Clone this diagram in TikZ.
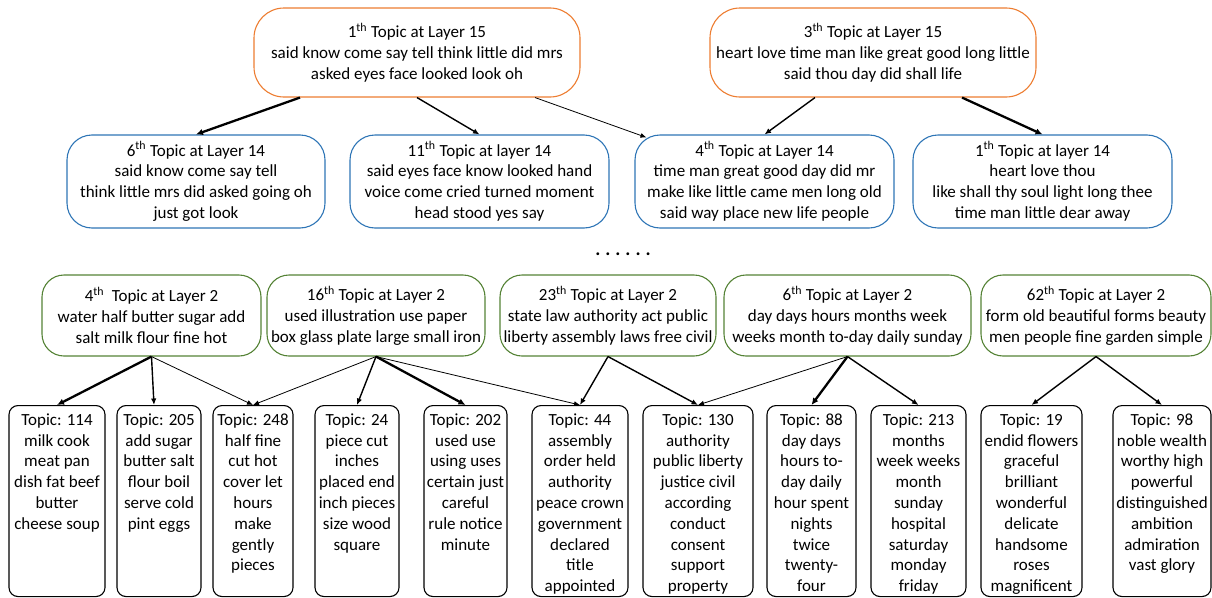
\documentclass[tikz,border=0pt]{standalone}
\usepackage{fontspec}
\setmainfont{Carlito}
\usetikzlibrary{arrows.meta}
\definecolor{orangeL}{HTML}{ED7D31}
\definecolor{blueL}{HTML}{2E75B6}
\definecolor{greenL}{HTML}{548235}
\newcommand\leafbody[1]{\vbox to 191pt{\vskip 8pt\halign{\hfil##\hfil\cr#1\crcr}\vfill}}
\newcommand\sth{\textsuperscript{th}}
\begin{document}
\begin{tikzpicture}[x=1pt,y=-1pt,
  font=\fontsize{17pt}{20.8pt}\selectfont,
  topbox/.style={draw=orangeL, line width=1.1pt, rounded corners=30pt, align=center,
    minimum width=326pt, minimum height=89pt, inner sep=0pt},
  midbox/.style={draw=blueL, line width=1.1pt, rounded corners=25pt, align=center,
    minimum width=259pt, minimum height=93pt, inner sep=0pt},
  lowbox/.style={draw=greenL, line width=1.1pt, rounded corners=22pt, align=center,
    minimum height=81pt, inner sep=0pt},
  leaf/.style={draw=black, line width=1.1pt, rounded corners=9pt, anchor=north,
    inner sep=0pt},
  ethin/.style={line width=0.8pt, -{Latex[length=6pt,width=5pt]}},
  emed/.style={line width=1.4pt, -{Latex[length=6.5pt,width=5.5pt]}},
  ethick/.style={line width=2.3pt, -{Latex[length=7pt,width=6.5pt]}}
]
\useasboundingbox (0,0) rectangle (1212,597);

% layer 15
\node[topbox] (o1) at (417,52.5) {1\sth{} Topic at Layer 15\\said know come say tell think little did mrs\\asked eyes face looked look oh};
\node[topbox] (o3) at (873,52.5) {3\sth{} Topic at Layer 15\\heart love time man like great good long little\\said thou day did shall life};

% layer 14
\node[midbox, minimum width=258pt] (b6) at (196,181.5) {6\sth{} Topic at Layer 14\\said know come say tell\\think little mrs did asked going oh\\just got look};
\node[midbox] (b11) at (479.5,181.5) {11\sth{} Topic at layer 14\\said eyes face know looked hand\\voice come cried turned moment\\head stood yes say};
\node[midbox] (b4) at (764.5,181.5) {4\sth{} Topic at Layer 14\\time man great good day did mr\\make like little came men long old\\said way place new life people};
\node[midbox] (b1) at (1042.5,181.5) {1\sth{} Topic at layer 14\\heart love thou\\like shall thy soul light long thee\\time man little dear away};

\node[font=\fontsize{19pt}{20.8pt}\selectfont\bfseries, inner sep=0pt] (dots) at (623,254) {.\kern5pt.\kern5pt.\kern5pt.\kern5pt.\kern5pt.};

% layer 2
\node[lowbox, minimum width=219pt] (g4) at (151.5,315.5) {4\sth\ \ Topic at Layer 2\\water half butter sugar add\\salt milk flour fine hot};
\node[lowbox, minimum width=218pt] (g16) at (376,315.5) {16\sth{} Topic at Layer 2\\used illustration use paper\\box glass plate large small iron};
\node[lowbox, minimum width=216pt] (g23) at (608,315.5) {23\sth{} Topic at Layer 2\\state law authority act public\\liberty assembly laws free civil};
\node[lowbox, minimum width=247pt] (g6) at (847.5,315.5) {6\sth{} Topic at Layer 2\\day days hours months week\\weeks month to-day daily sunday};
\node[lowbox, minimum width=230pt] (g62) at (1096,315.5) {62\sth{} Topic at Layer 2\\form old beautiful forms beauty\\men people fine garden simple};

% layer 1
\node[leaf, minimum width=96pt] (t114) at (57,405) {\leafbody{Topic: 114\cr milk cook\cr meat pan\cr dish fat beef\cr butter\cr cheese soup}};
\node[leaf, minimum width=84pt] (t205) at (159,405) {\leafbody{Topic: 205\cr add sugar\cr butter salt\cr flour boil\cr serve cold\cr pint eggs}};
\node[leaf, minimum width=80pt] (t248) at (253,405) {\leafbody{Topic: 248\cr half fine\cr cut hot\cr cover let\cr hours\cr make\cr gently\cr pieces}};
\node[leaf, minimum width=84pt] (t24) at (357,405) {\leafbody{Topic: 24\cr piece cut\cr inches\cr placed end\cr inch pieces\cr size wood\cr square}};
\node[leaf, minimum width=83pt] (t202) at (465.5,405) {\leafbody{Topic: 202\cr used use\cr using uses\cr certain just\cr careful\cr rule notice\cr minute}};
\node[leaf, minimum width=96pt] (t44) at (580,405) {\leafbody{Topic: 44\cr assembly\cr order held\cr authority\cr peace crown\cr government\cr declared\cr title\cr appointed}};
\node[leaf, minimum width=110pt] (t130) at (698,405) {\leafbody{Topic: 130\cr authority\cr public liberty\cr justice civil\cr according\cr conduct\cr consent\cr support\cr property}};
\node[leaf, minimum width=89pt] (t88) at (811.5,405) {\leafbody{Topic: 88\cr day days\cr hours to-\cr day daily\cr hour spent\cr nights\cr twice\cr twenty-\cr four}};
\node[leaf, minimum width=95pt] (t213) at (918.5,405) {\leafbody{Topic: 213\cr months\cr week weeks\cr month\cr sunday\cr hospital\cr saturday\cr monday\cr friday}};
\node[leaf, minimum width=101pt] (t19) at (1031.5,405) {\leafbody{Topic: 19\cr endid flowers\cr graceful\cr brilliant\cr wonderful\cr delicate\cr handsome\cr roses\cr magnificent}};
\node[leaf, minimum width=98pt] (t98) at (1162,405) {\leafbody{Topic: 98\cr noble wealth\cr worthy high\cr powerful\cr distinguished\cr ambition\cr admiration\cr vast glory}};

% connectors layer 15 -> 14
\draw[ethick] ([xshift=-117pt]o1.south) -- (b6.north);
\draw[emed] (o1.south) -- (b11.north);
\draw[ethin] ([xshift=118pt]o1.south) -- ([xshift=12pt,yshift=-3pt]b4.north west);
\draw[emed] ([xshift=-58pt]o3.south) -- (b4.north);
\draw[ethick] ([xshift=89pt]o3.south) -- (b1.north);

% connectors layer 2 -> 1
\draw[ethick] (g4.south) -- (t114.north);
\draw[emed] (g4.south) -- ([xshift=-5pt]t205.north);
\draw[ethin] (g4.south) -- (t248.north);
\draw[ethin] (g16.south) -- (t248.north);
\draw[emed] (g16.south) -- (t24.north);
\draw[ethick] (g16.south) -- (t202.north);
\draw[ethin] (g16.south) -- (t44.north);
\draw[emed] (g23.south) -- (t44.north);
\draw[emed] (g23.south) -- (t130.north);
\draw[ethin] (g6.south) -- (t130.north);
\draw[ethick] (g6.south) -- (t88.north);
\draw[emed] (g6.south) -- (t213.north);
\draw[emed] (g62.south) -- (t19.north);
\draw[emed] (g62.south) -- (t98.north);
\end{tikzpicture}
\end{document}
